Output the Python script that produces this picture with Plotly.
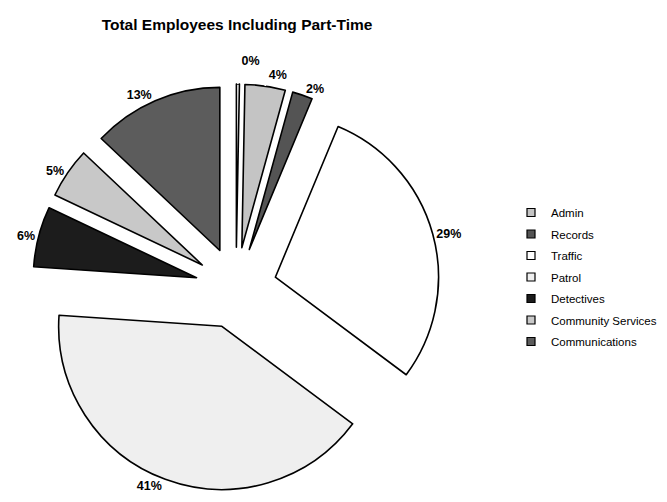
import plotly.graph_objects as go

# Data (clockwise from 12 o'clock); first slice is an unlabeled ~0% slice
slice_labels = ["(other)", "Admin", "Records", "Traffic", "Patrol", "Detectives",
                "Community Services", "Communications"]
slice_values = [0.3, 4, 2, 29, 41, 6, 5, 13]
slice_colors = ["#ffffff", "#c4c4c4", "#545454", "#ffffff", "#efefef", "#1c1c1c",
                "#c8c8c8", "#5c5c5c"]
legend_labels = ["Admin", "Records", "Traffic", "Patrol", "Detectives",
                 "Community Services", "Communications"]
legend_colors = ["#c4c4c4", "#545454", "#ffffff", "#efefef", "#1c1c1c",
                 "#c8c8c8", "#5c5c5c"]
title_text = "Total Employees Including Part-Time"

W, H = 667, 502
cx, cy, half = 228, 280, 204
FONT = "Arial, Liberation Sans, sans-serif"

fig = go.Figure()
fig.add_trace(go.Pie(
    labels=slice_labels,
    values=slice_values,
    sort=False,
    direction="clockwise",
    rotation=0,
    pull=[0.25] * len(slice_values),
    marker=dict(colors=slice_colors, line=dict(color="#000000", width=1.6)),
    texttemplate="<span style='color:#000000'><b>%{percent:.0%}</b></span>",
    textposition="outside",
    textfont=dict(family=FONT, size=12.5, color="#ffffff"),
    outsidetextfont=dict(family=FONT, size=12.5, color="#ffffff"),
    showlegend=False,
    hoverinfo="label+percent",
    domain=dict(x=[(cx - half) / W, (cx + half) / W],
                y=[(H - cy - half) / H, (H - cy + half) / H]),
))

for i, (lab, col) in enumerate(zip(legend_labels, legend_colors)):
    fig.add_trace(go.Scatter(
        x=[None], y=[None], mode="markers", name=lab, legendgroup=f"g{i}",
        marker=dict(symbol="square", size=8, color=col,
                    line=dict(color="#000000", width=1.2)),
    ))

fig.update_layout(
    width=W, height=H,
    margin=dict(l=0, r=0, t=0, b=0, autoexpand=False),
    paper_bgcolor="#ffffff",
    plot_bgcolor="#ffffff",
    title=dict(text="<b>" + title_text + "</b>", x=229 / W, xanchor="center",
               y=1 - 17 / H, yanchor="middle",
               font=dict(family=FONT, size=15.5, color="#000000")),
    xaxis=dict(visible=False),
    yaxis=dict(visible=False),
    legend=dict(x=503 / W, xanchor="left", y=1 - 190 / H, yanchor="top",
                font=dict(family=FONT, size=11.5, color="#000000"),
                tracegroupgap=2.5, itemwidth=30, bgcolor="rgba(0,0,0,0)"),
)

fig.write_html("out.html")
